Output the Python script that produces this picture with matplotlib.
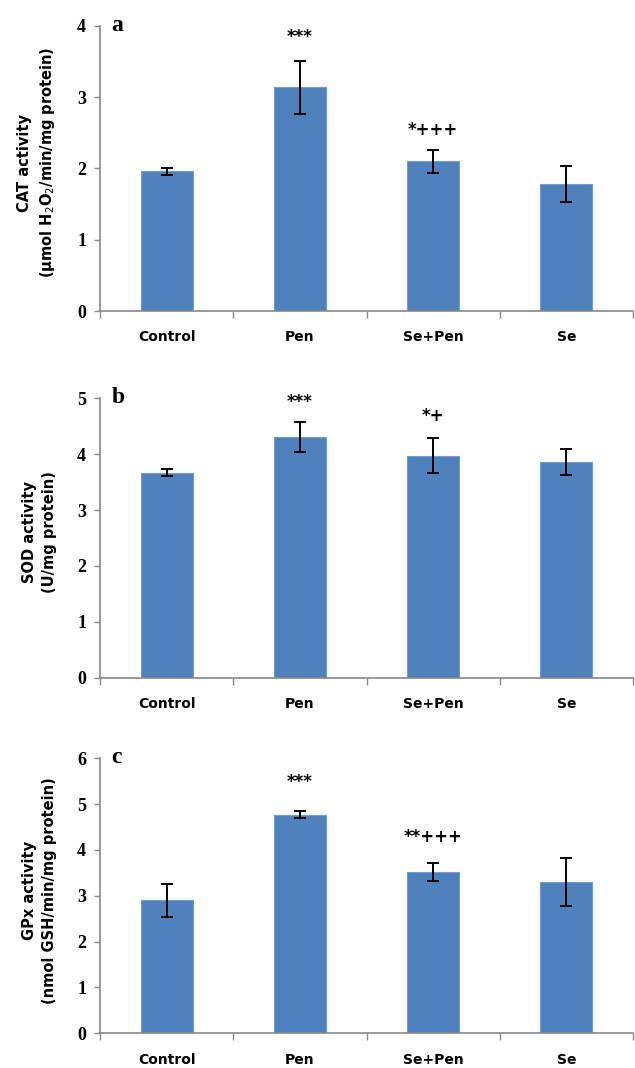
import matplotlib.pyplot as plt

groups = ['Control', 'Pen', 'Se+Pen', 'Se']

cat_mean = [1.96, 3.14, 2.10, 1.78]
cat_err = [0.05, 0.37, 0.16, 0.25]
cat_marks = ['', '***', '*+++', '']

sod_mean = [3.67, 4.30, 3.97, 3.86]
sod_err = [0.06, 0.27, 0.31, 0.23]
sod_marks = ['', '***', '*+', '']

gpx_mean = [2.90, 4.77, 3.52, 3.30]
gpx_err = [0.36, 0.07, 0.20, 0.52]
gpx_marks = ['', '***', '**+++', '']

bar_color = '#4F81BD'
sans = 'DejaVu Sans'
serif = 'Liberation Serif'


def panel(rect, mean, err, marks, ymax, ylabel, letter, mark_y):
  ax = fig.add_axes(rect)
  x = list(range(len(groups)))
  ax.bar(x, mean, width=0.39, color=bar_color, edgecolor='#6E9BD0', lw=0.8, zorder=2)
  ax.errorbar(x, mean, yerr=err, fmt='none', ecolor='black',
              elinewidth=1.4, capsize=4, capthick=1.4, zorder=3)
  for i, m in enumerate(marks):
    if m:
      ax.text(i, mark_y[i], m, ha='center', va='bottom',
              fontsize=12, fontweight='bold', family=sans)
  ax.set_xlim(-0.5, 3.5)
  ax.set_ylim(0, ymax)
  ax.set_yticks(range(ymax + 1))
  ax.set_xticks(x)
  ax.set_xticklabels(groups, fontsize=10, fontweight='bold', family=sans)
  ax.set_xticks([-0.5, 0.5, 1.5, 2.5, 3.5], minor=True)
  ax.tick_params(axis='x', which='major', length=0, pad=14)
  ax.tick_params(axis='x', which='minor', length=5, width=1, color='#888888', direction='out')
  ax.tick_params(axis='y', length=4, width=1, color='#888888', pad=6)
  for t in ax.get_yticklabels():
    t.set_fontsize(13)
    t.set_fontweight('bold')
    t.set_family(serif)
  for s in ['top', 'right']:
    ax.spines[s].set_visible(False)
  for s in ['left', 'bottom']:
    ax.spines[s].set_color('#888888')
    ax.spines[s].set_linewidth(1.2)
  ax.set_ylabel(ylabel, fontsize=10.5, fontweight='bold', family=sans, linespacing=1.45)
  ax.yaxis.set_label_coords(-0.08, 0.52)
  ax.text(0.022, 0.982, letter, transform=ax.transAxes, ha='left', va='baseline',
          fontsize=17, fontweight='bold', family=serif)
  return ax


fig = plt.figure(figsize=(6.35, 10.68), dpi=100)

panel([0.1575, 0.7088, 0.8395, 0.2669], cat_mean, cat_err, cat_marks, 4,
      'CAT activity\n(μmol H$_2$O$_2$/min/mg protein)', 'a', [0, 3.72, 2.42, 0])
panel([0.1575, 0.3655, 0.8395, 0.2616], sod_mean, sod_err, sod_marks, 5,
      'SOD activity\n(U/mg protein)', 'b', [0, 4.78, 4.52, 0])
panel([0.1575, 0.0325, 0.8395, 0.2575], gpx_mean, gpx_err, gpx_marks, 6,
      'GPx activity\n(nmol GSH/min/mg protein)', 'c', [0, 5.28, 4.08, 0])

fig.savefig('out.png', dpi=100)
